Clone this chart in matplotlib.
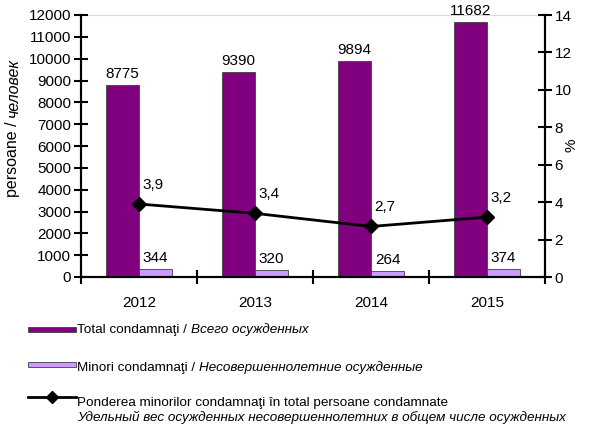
import numpy as np
import matplotlib.pyplot as plt
from matplotlib.patches import Rectangle
from matplotlib.lines import Line2D

plt.rcParams['font.family'] = ['Liberation Sans', 'DejaVu Sans']

years = ["2012", "2013", "2014", "2015"]
total = [8775, 9390, 9894, 11682]
minors = [344, 320, 264, 374]
share = [3.9, 3.4, 2.7, 3.2]
share_labels = ["3,9", "3,4", "2,7", "3,2"]

dark = "#800080"
light = "#CC99FF"
W, H = 591, 428
fs = 11

fig = plt.figure(figsize=(W / 100, H / 100), dpi=100)
ax = fig.add_axes([81 / W, 1 - 277 / H, (545 - 81) / W, (277 - 15) / H])
ax2 = ax.twinx()

x = np.arange(len(years))
bw = 0.285
b1 = ax.bar(x - bw / 2, total, bw, color=dark, edgecolor="#404040", linewidth=0.6, zorder=2)
b2 = ax.bar(x + bw / 2, minors, bw, color=light, edgecolor="#404040", linewidth=0.6, zorder=2)

for rect, v in zip(list(b1) + list(b2), total + minors):
    ax.annotate(str(v), (rect.get_x() + rect.get_width() / 2, rect.get_height()),
                xytext=(0, 4), textcoords="offset pixels", ha="center", va="bottom",
                fontsize=fs, zorder=5)

ax2.plot(x, share, color="black", lw=2, marker="D", markersize=7, zorder=4)
for xi, v, s in zip(x, share, share_labels):
    ax2.annotate(s, (xi, v), xytext=(3, 19), textcoords="offset pixels",
                 ha="left", va="center", fontsize=fs)

ax.set_xlim(-0.5, 3.5)
ax.set_ylim(0, 12000)
ax.set_yticks(range(0, 12001, 1000))
ax2.set_ylim(0, 14)
ax2.set_yticks(range(0, 15, 2))
ax.axhline(12000, color="#d9d9d9", lw=1.5, zorder=1)

ax.set_xticks(x)
ax.set_xticklabels(years)
ax.set_xticks(np.arange(-0.5, 3.6, 1), minor=True)
ax.tick_params(axis="x", which="major", length=0, pad=14, labelsize=fs)
ax.tick_params(axis="x", which="minor", length=10, width=1.5, direction="inout")
ax.tick_params(axis="y", length=10, width=1.5, direction="inout", labelsize=fs, pad=2)
ax2.tick_params(axis="y", length=10, width=1.5, direction="inout", labelsize=fs, pad=2)

for a in (ax, ax2):
    a.spines["top"].set_visible(False)
    for s in ("left", "right", "bottom"):
        a.spines[s].set_linewidth(1.5)

# y labels
t1 = fig.text(13 / W, 1 - 197 / H, "persoane / ", rotation=90, ha="center", va="bottom", fontsize=11.5)
ax.annotate("человек", xy=(0.5, 1), xycoords=t1, rotation=90, ha="center", va="bottom",
            fontsize=11.5, style="italic", annotation_clip=False)
fig.text(572 / W, 1 - 145 / H, "%", rotation=90, ha="center", va="center", fontsize=fs)

# legend
lfs = 9.7
fig.patches.append(Rectangle((28 / W, 1 - 332 / H), 48 / W, 5 / H, transform=fig.transFigure,
                             facecolor=dark, edgecolor="#404040", lw=0.6))
fig.patches.append(Rectangle((28 / W, 1 - 367 / H), 48 / W, 5 / H, transform=fig.transFigure,
                             facecolor=light, edgecolor="#404040", lw=0.6))
fig.lines.append(Line2D([28 / W, 76 / W], [1 - 397 / H] * 2, transform=fig.transFigure,
                        color="black", lw=2))
fig.lines.append(Line2D([52 / W], [1 - 397 / H], transform=fig.transFigure,
                        color="black", marker="D", markersize=6))

def two_part(xp, yp, a, b):
    t = fig.text(xp / W, 1 - yp / H, a, ha="left", va="center", fontsize=lfs)
    ax.annotate(b, xy=(1, 0.5), xycoords=t, ha="left", va="center", fontsize=lfs,
                style="italic", annotation_clip=False)

two_part(77, 330, "Total condamnaţi / ", "Всего осужденных")
two_part(77, 368, "Minori condamnaţi / ", "Несовершеннолетние осужденные")
fig.text(77 / W, 1 - 403 / H, "Ponderea minorilor condamnaţi în total persoane condamnate",
         ha="left", va="center", fontsize=lfs)
fig.text(77 / W, 1 - 417 / H, "Удельный вес осужденных несовершеннолетних в общем числе осужденных",
         ha="left", va="center", fontsize=lfs, style="italic")

fig.savefig("out.png", dpi=100)
